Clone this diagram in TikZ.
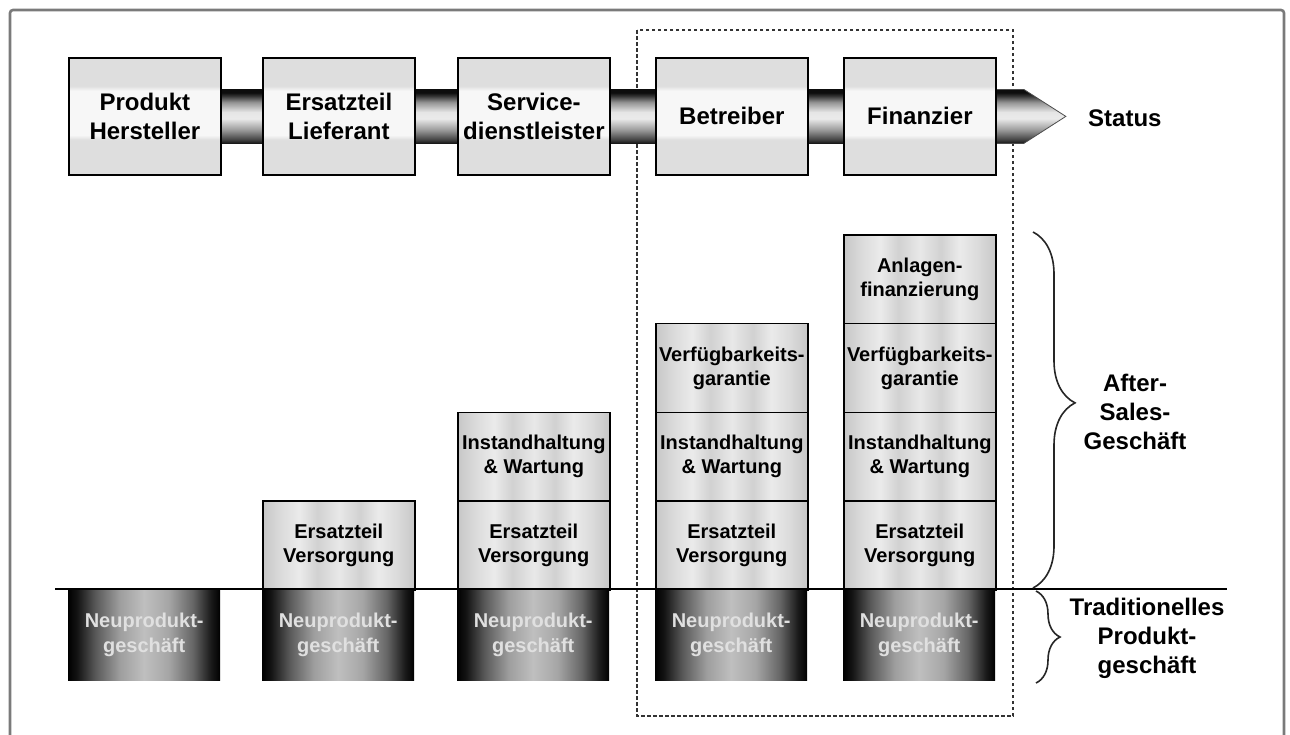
\documentclass[tikz,border=0pt]{standalone}
\usepackage{fontspec}
\setmainfont{Liberation Sans}
\usetikzlibrary{decorations.pathreplacing}
\definecolor{tbg}{HTML}{DEDEDE}
\definecolor{tbl}{HTML}{F7F7F7}
\definecolor{framegray}{HTML}{7A7A7A}
\pgfdeclareverticalshading{topshade}{100bp}{color(0bp)=(tbg); color(25bp)=(tbg); color(40bp)=(tbg); color(42bp)=(tbl); color(61bp)=(tbl); color(63bp)=(tbg); color(100bp)=(tbg)}
\pgfdeclareverticalshading{pipeshade}{100bp}{color(0bp)=(black!92); color(25bp)=(black!92); color(29bp)=(black!72); color(38bp)=(black!38); color(48bp)=(black!8); color(54bp)=(black!10); color(63bp)=(black!42); color(69bp)=(black!80); color(72bp)=(black!95); color(75bp)=(black!95); color(100bp)=(black!95)}
\pgfdeclarehorizontalshading{cellshade}{100bp}{color(0bp)=(black!22); color(25bp)=(black!22); color(31bp)=(black!14); color(37bp)=(black!8); color(43bp)=(black!18); color(50bp)=(black!9); color(57bp)=(black!18); color(63bp)=(black!8); color(69bp)=(black!14); color(75bp)=(black!22); color(100bp)=(black!22)}
\pgfdeclarehorizontalshading{npshade}{100bp}{color(0bp)=(black); color(25bp)=(black); color(28bp)=(black!92); color(34bp)=(black!65); color(42bp)=(black!38); color(50bp)=(black!25); color(58bp)=(black!35); color(66bp)=(black!60); color(72bp)=(black!90); color(75bp)=(black); color(100bp)=(black)}
\pgfdeclarelayer{backdrop}
\pgfdeclarelayer{bg}
\pgfsetlayers{backdrop,bg,main}
\begin{document}
\begin{tikzpicture}[x=1pt,y=-1pt,
  actor/.style={draw=black, line width=1.8pt, shading=topshade, minimum width=152pt, minimum height=117pt, inner sep=0pt, anchor=north west, align=center, font=\fontsize{24}{29}\selectfont\bfseries},
  cellbox/.style={draw=black, line width=1.6pt, shading=cellshade, minimum width=152pt, minimum height=88.75pt, inner sep=0pt, anchor=north west, align=center, font=\fontsize{20}{24}\selectfont\bfseries},
  npbox/.style={shading=npshade, minimum width=152pt, minimum height=91pt, inner sep=0pt, anchor=north west, align=center, text=white!88!black, font=\fontsize{20}{25}\selectfont\bfseries},
  lbl/.style={align=center, inner sep=0pt, font=\fontsize{24}{29}\selectfont\bfseries},
  bracestyle/.style={draw=black!85, line width=1.6pt, decorate},
  pipe/.style={shading=pipeshade}
]
\begin{pgfonlayer}{backdrop}
  \fill[white] (0,0) rectangle (1290,734);
\end{pgfonlayer}
\useasboundingbox (0,0) rectangle (1290,734);
% outer frame
\draw[framegray, line width=2.6pt, rounded corners=3pt] (10,740) -- (10,10) -- (1284,10) -- (1284,740);
% dashed group frame
\begin{pgfonlayer}{backdrop}
\draw[black!80, line width=1.3pt, dash pattern=on 3.5pt off 2.5pt] (637,30) rectangle (1013,716);
\end{pgfonlayer}

% top row of actors
\node[actor] (t1) at (68,57) {Produkt\\Hersteller};
\node[actor] (t2) at (262,57) {Ersatzteil\\Lieferant};
\node[actor] (t3) at (457,57) {Service-\\dienstleister};
\node[actor] (t4) at (655,57) {Betreiber};
\node[actor] (t5) at (843,57) {Finanzier};

\begin{pgfonlayer}{bg}
  \shade[pipe] ([yshift=27pt]t1.center) rectangle ([yshift=-27pt]t5.center);
  \shade[pipe] ([yshift=27pt]t5.east) -- ++(27,0) -- ++(42,27) -- ++(-42,27) -- ++(-27,0) -- cycle;
  \draw[black!70, line width=0.8pt] ([yshift=27pt]t5.east) -- ++(27,0) -- ++(42,27) -- ++(-42,27) -- ++(-27,0);
\end{pgfonlayer}
\node[lbl, anchor=west] (status) at (1088,118) {Status};

% stacks
\node[cellbox] (c2a) at (262,500.25) {Ersatzteil\\Versorgung};

\node[cellbox] (c3a) at (457,500.25) {Ersatzteil\\Versorgung};
\node[cellbox] (c3b) at (457,411.5) {Instandhaltung\\\& Wartung};

\node[cellbox] (c4a) at (655,500.25) {Ersatzteil\\Versorgung};
\node[cellbox] (c4b) at (655,411.5) {Instandhaltung\\\& Wartung};
\node[cellbox] (c4c) at (655,322.75) {Verfügbarkeits-\\garantie};

\node[cellbox] (c5a) at (843,500.25) {Ersatzteil\\Versorgung};
\node[cellbox] (c5b) at (843,411.5) {Instandhaltung\\\& Wartung};
\node[cellbox] (c5c) at (843,322.75) {Verfügbarkeits-\\garantie};
\node[cellbox] (c5d) at (843,234) {Anlagen-\\finanzierung};

% traditional product business
\node[npbox] (n1) at (68,589) {Neuprodukt-\\geschäft};
\node[npbox] (n2) at (262,589) {Neuprodukt-\\geschäft};
\node[npbox] (n3) at (457,589) {Neuprodukt-\\geschäft};
\node[npbox] (n4) at (655,589) {Neuprodukt-\\geschäft};
\node[npbox] (n5) at (843,589) {Neuprodukt-\\geschäft};

% baseline
\coordinate (bl) at (55,589);
\coordinate (br) at (1227,589);
\draw[black, line width=1.8pt] (bl) -- (br);

% braces
\coordinate (b1t) at (1033,232);
\coordinate (b1b) at (1033,588);
\coordinate (b2t) at (1036,591);
\coordinate (b2b) at (1036,683);
\draw[bracestyle, decoration={brace, amplitude=42pt, aspect=0.48}] (b1t) -- (b1b);
\draw[bracestyle, decoration={brace, amplitude=24pt, aspect=0.5}] (b2t) -- (b2b);
\node[lbl] (after) at (1135,412) {After-\\Sales-\\Geschäft};
\node[lbl] (trad) at (1147,638) {Traditionelles\\Produkt-\\geschäft};
\end{tikzpicture}
\end{document}
